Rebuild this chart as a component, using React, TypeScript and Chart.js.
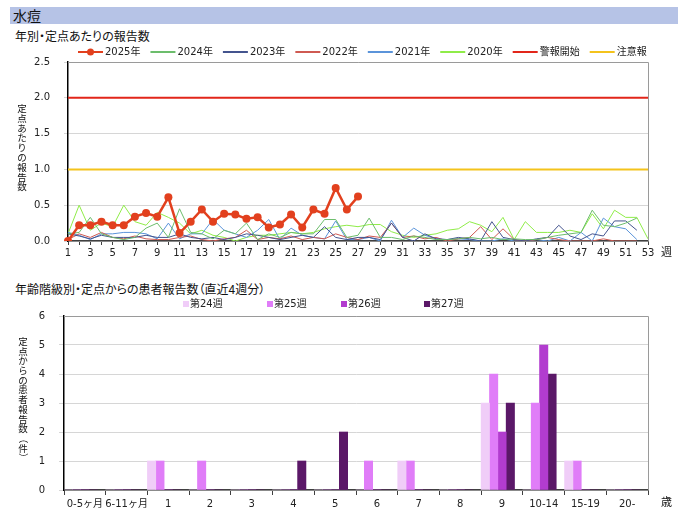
import React, { useEffect, useRef } from "react";
import { Chart, registerables } from "chart.js";

Chart.register(...registerables);

// ---------- data ----------
const WEEKS = Array.from({ length: 53 }, (_, i) => String(i + 1));

const Y2025 = [0.0, 0.22, 0.22, 0.27, 0.22, 0.22, 0.34, 0.39, 0.34, 0.61, 0.11, 0.27, 0.44, 0.27, 0.38, 0.37, 0.31, 0.33, 0.19, 0.23, 0.37, 0.19, 0.44, 0.38, 0.74, 0.44, 0.62];

const Y2024 = [0.10, 0.12, 0.33, 0.10, 0.05, 0.02, 0.05, 0.18, 0.25, 0.05, 0.45, 0.12, 0.10, 0.03, 0.15, 0.10, 0.25, 0.02,
  0.10, 0.05, 0.12, 0.10, 0.10, 0.30, 0.30, 0.05, 0.08, 0.32, 0.05, 0.05, 0.02, 0.07, 0.05, 0.02, 0.02,
  0.03, 0.05, 0.03, 0.05, 0.02, 0.03, 0.02, 0.02, 0.05, 0.08, 0.10, 0.12, 0.43, 0.22, 0.20, 0.25, 0.32];

const Y2023 = [0.10, 0.07, 0.03, 0.08, 0.05, 0.05, 0.05, 0.08, 0.05, 0.05, 0.10, 0.05, 0.03, 0.05, 0.02, 0.05, 0.10, 0.08,
  0.05, 0.02, 0.05, 0.08, 0.05, 0.20, 0.05, 0.02, 0.05, 0.05, 0.02, 0.25, 0.05, 0.00, 0.10, 0.03, 0.02,
  0.05, 0.03, 0.00, 0.27, 0.05, 0.02, 0.00, 0.03, 0.05, 0.22, 0.07, 0.02, 0.10, 0.07, 0.28, 0.28, 0.15];

const Y2022 = [0.02, 0.10, 0.05, 0.12, 0.05, 0.03, 0.07, 0.03, 0.02, 0.02, 0.05, 0.07, 0.02, 0.00, 0.03, 0.05, 0.15, 0.02,
  0.05, 0.03, 0.07, 0.02, 0.05, 0.03, 0.10, 0.05, 0.02, 0.07, 0.05, 0.25, 0.05, 0.07, 0.03, 0.05, 0.00,
  0.03, 0.05, 0.20, 0.02, 0.17, 0.02, 0.00, 0.02, 0.05, 0.02, 0.00, 0.00, 0.00, 0.03, 0.00, 0.00, 0.00];

const Y2021 = [0.12, 0.08, 0.02, 0.10, 0.10, 0.12, 0.12, 0.10, 0.03, 0.25, 0.03, 0.10, 0.10, 0.30, 0.15, 0.10, 0.05, 0.15,
  0.30, 0.02, 0.18, 0.08, 0.05, 0.03, 0.28, 0.02, 0.02, 0.05, 0.00, 0.29, 0.05, 0.18, 0.08, 0.03, 0.02,
  0.03, 0.02, 0.00, 0.00, 0.03, 0.00, 0.00, 0.02, 0.00, 0.05, 0.00, 0.12, 0.00, 0.32, 0.20, 0.17, 0.02];

const Y2020 = [0.10, 0.50, 0.15, 0.25, 0.20, 0.50, 0.27, 0.22, 0.40, 0.33, 0.25, 0.10, 0.15, 0.08, 0.05, 0.00, 0.05, 0.08,
  0.08, 0.10, 0.12, 0.10, 0.12, 0.17, 0.20, 0.22, 0.20, 0.23, 0.23, 0.13, 0.08, 0.05, 0.08, 0.10, 0.15,
  0.17, 0.27, 0.22, 0.13, 0.33, 0.02, 0.27, 0.12, 0.12, 0.12, 0.15, 0.12, 0.38, 0.17, 0.43, 0.33, 0.33, 0.03];

const ALERT_LEVEL = 2.0;
const WARN_LEVEL = 1.0;

const AGE_GROUPS = ["0-5ヶ月", "6-11ヶ月", "1", "2", "3", "4", "5", "6", "7", "8", "9", "10-14", "15-19", "20-"];
const W24 = [0, 0, 1, 0, 0, 0, 0, 0, 1, 0, 3, 0, 1, 0];
const W25 = [0, 0, 1, 1, 0, 0, 0, 1, 1, 0, 4, 3, 1, 0];
const W26 = [0, 0, 0, 0, 0, 0, 0, 0, 0, 0, 2, 5, 0, 0];
const W27 = [0, 0, 0, 0, 0, 1, 2, 0, 0, 0, 3, 4, 0, 0];

const FONT = '"DejaVu Sans", "Noto Sans CJK JP", sans-serif';
const JP = '"Noto Sans CJK JP", "Noto Sans", sans-serif';

const framePlugin = {
  id: "frame",
  afterDatasetsDraw(chart: any) {
    const { ctx, chartArea: a } = chart;
    ctx.save();
    ctx.strokeStyle = "#9a9a9a";
    ctx.lineWidth = 1;
    ctx.beginPath();
    ctx.moveTo(a.left, a.top + 0.5);
    ctx.lineTo(a.right + 0.5, a.top + 0.5);
    ctx.lineTo(a.right + 0.5, a.bottom);
    ctx.stroke();
    ctx.restore();
  },
};

const legend1Plugin = {
  id: "legend1",
  afterDraw(chart: any) {
    const ctx = chart.ctx;
    ctx.save();
    ctx.font = "10px " + FONT;
    ctx.textBaseline = "middle";
    let x = 78;
    const y = 10;
    chart.data.datasets.forEach((ds: any) => {
      ctx.strokeStyle = ds.borderColor;
      ctx.lineWidth = 2;
      ctx.beginPath();
      ctx.moveTo(x, y);
      ctx.lineTo(x + 25, y);
      ctx.stroke();
      if (ds.pointRadius > 0) {
        ctx.fillStyle = ds.borderColor;
        ctx.beginPath();
        ctx.arc(x + 12.5, y, 3.5, 0, Math.PI * 2);
        ctx.fill();
      }
      ctx.fillStyle = "#222";
      ctx.fillText(ds.label, x + 27, y + 0.5);
      x += 27 + ctx.measureText(ds.label).width + 10;
    });
    ctx.restore();
  },
};

const LEGEND2_X = [183, 267, 341, 424];
const legend2Plugin = {
  id: "legend2",
  afterDraw(chart: any) {
    const ctx = chart.ctx;
    ctx.save();
    ctx.font = "10px " + FONT;
    ctx.textBaseline = "middle";
    const y = 8;
    chart.data.datasets.slice(0, 4).forEach((ds: any, i: number) => {
      const x = LEGEND2_X[i];
      ctx.fillStyle = ds.backgroundColor;
      ctx.fillRect(x, y - 3, 6, 6);
      ctx.fillStyle = "#222";
      ctx.fillText(ds.label, x + 7, y + 0.5);
    });
    ctx.restore();
  },
};

function lineDs(label: string, data: number[], color: string, width = 1) {
  return {
    label,
    data,
    borderColor: color,
    backgroundColor: color,
    borderWidth: width,
    pointRadius: 0,
    tension: 0,
  };
}

function VerticalText({ text, left, top, step }: { text: string; left: number; top: number; step: number }) {
  return (
    <div style={{ position: "absolute", left, top, width: 12, fontFamily: JP, fontSize: 9.5, color: "#111" }}>
      {Array.from(text).map((ch, i) => (
        <div
          key={i}
          style={{
            height: step,
            lineHeight: step + "px",
            overflow: "visible",
            textAlign: "center",
            transform: ch === "（" || ch === "）" ? "rotate(90deg)" : undefined,
          }}
        >
          {ch}
        </div>
      ))}
    </div>
  );
}

export default function App() {
  const ref1 = useRef<HTMLCanvasElement>(null);
  const ref2 = useRef<HTMLCanvasElement>(null);

  useEffect(() => {
    const c1 = new Chart(ref1.current as HTMLCanvasElement, {
      type: "line",
      data: {
        labels: WEEKS,
        datasets: [
          {
            label: "2025年",
            data: Y2025,
            borderColor: "#e2401e",
            backgroundColor: "#e2401e",
            borderWidth: 2.5,
            pointRadius: 4,
            pointBorderWidth: 0,
            pointBackgroundColor: "#e2401e",
            tension: 0,
          },
          lineDs("2024年", Y2024, "#6cbd6c"),
          lineDs("2023年", Y2023, "#44548e"),
          lineDs("2022年", Y2022, "#cf5a52"),
          lineDs("2021年", Y2021, "#5b94da"),
          lineDs("2020年", Y2020, "#8fec48"),
          lineDs("警報開始", WEEKS.map(() => ALERT_LEVEL), "#e2261a", 2),
          lineDs("注意報", WEEKS.map(() => WARN_LEVEL), "#f4c31c", 2),
        ] as any,
      },
      options: {
        animation: false,
        responsive: false,
        layout: { padding: { left: 0, right: 36, top: 16, bottom: 0 } },
        plugins: { legend: { display: false }, tooltip: { enabled: false } },
        scales: {
          x: {
            ticks: {
              autoSkip: false,
              maxRotation: 0,
              padding: 2,
              color: "#222",
              font: { size: 10, family: FONT },
              callback: (_v: any, i: number) => (i % 2 === 0 ? WEEKS[i] : ""),
            },
            grid: { drawOnChartArea: false, tickLength: 4, color: "#404040" },
            border: { color: "#404040", width: 1.5 },
            afterFit: (s: any) => {
              s.height = 23;
            },
          },
          y: {
            min: 0,
            max: 2.5,
            ticks: {
              stepSize: 0.5,
              padding: 14,
              color: "#222",
              font: { size: 10, family: FONT },
              callback: (v: any) => Number(v).toFixed(1),
            },
            grid: { color: "#d6d6d6", tickLength: 4 },
            border: { color: "#000", width: 1.5 },
            afterFit: (s: any) => {
              s.width = 68;
            },
          },
        },
      } as any,
      plugins: [framePlugin, legend1Plugin],
    });

    const c2 = new Chart(ref2.current as HTMLCanvasElement, {
      type: "bar",
      data: {
        labels: AGE_GROUPS,
        datasets: [
          { label: "第24週", data: W24, backgroundColor: "#f0cdf8" },
          { label: "第25週", data: W25, backgroundColor: "#e07df8" },
          { label: "第26週", data: W26, backgroundColor: "#b23ccf" },
          { label: "第27週", data: W27, backgroundColor: "#5b1868" },
          { label: "", data: [], backgroundColor: "rgba(0,0,0,0)" },
        ] as any,
      },
      options: {
        animation: false,
        responsive: false,
        layout: { padding: { left: 0, right: 36, top: 15, bottom: 0 } },
        plugins: { legend: { display: false }, tooltip: { enabled: false } },
        datasets: { bar: { categoryPercentage: 1.0, barPercentage: 1.0 } },
        scales: {
          x: {
            ticks: {
              autoSkip: false,
              maxRotation: 0,
              padding: 3,
              color: "#222",
              font: { size: 10, family: FONT },
            },
            grid: { drawOnChartArea: false, tickLength: 5, color: "#404040" },
            border: { color: "#404040", width: 1.5 },
            afterFit: (s: any) => {
              s.height = 20;
            },
          },
          y: {
            min: 0,
            max: 6,
            ticks: {
              stepSize: 1,
              padding: 14,
              color: "#222",
              font: { size: 10, family: FONT },
            },
            grid: { color: "#d6d6d6", tickLength: 5 },
            border: { color: "#000", width: 1.5 },
            afterFit: (s: any) => {
              s.width = 64;
            },
          },
        },
      } as any,
      plugins: [framePlugin, legend2Plugin],
    });

    return () => {
      c1.destroy();
      c2.destroy();
    };
  }, []);

  const abs = (o: any) => ({ position: "absolute" as const, margin: 0, ...o });
  const jp = { fontFamily: JP, color: "#111" };
  const palt = { fontFeatureSettings: '"palt"' };

  return (
    <div style={{ position: "absolute", left: 0, top: 0, width: 684, height: 510, background: "#fff", overflow: "hidden" }}>
      <div style={abs({ left: 10, top: 7, width: 668, height: 17, background: "#b6c3e6" })} />
      <div style={abs({ ...jp, left: 13, top: 7, fontSize: 14, lineHeight: "17px" })}>水痘</div>
      <div style={abs({ ...jp, ...palt, left: 15, top: 29, fontSize: 12, lineHeight: "14px" })}>年別・定点あたりの報告数</div>
      <canvas ref={ref1} width={684} height={222} style={abs({ left: 0, top: 42, width: 684, height: 222 })} />
      <VerticalText text="定点あたりの報告数" left={16} top={104} step={9.8} />
      <div style={abs({ ...jp, left: 661, top: 245, fontSize: 11, lineHeight: "13px" })}>週</div>

      <div style={abs({ ...jp, ...palt, left: 15, top: 282, fontSize: 12, lineHeight: "14px" })}>年齢階級別・定点からの患者報告数（直近4週分）</div>
      <canvas ref={ref2} width={684} height={214} style={abs({ left: 0, top: 296, width: 684, height: 214 })} />
      <VerticalText text="定点からの患者報告数（件）" left={17} top={337} step={9.7} />
      <div style={abs({ ...jp, left: 661, top: 495, fontSize: 11, lineHeight: "13px" })}>歳</div>
    </div>
  );
}
